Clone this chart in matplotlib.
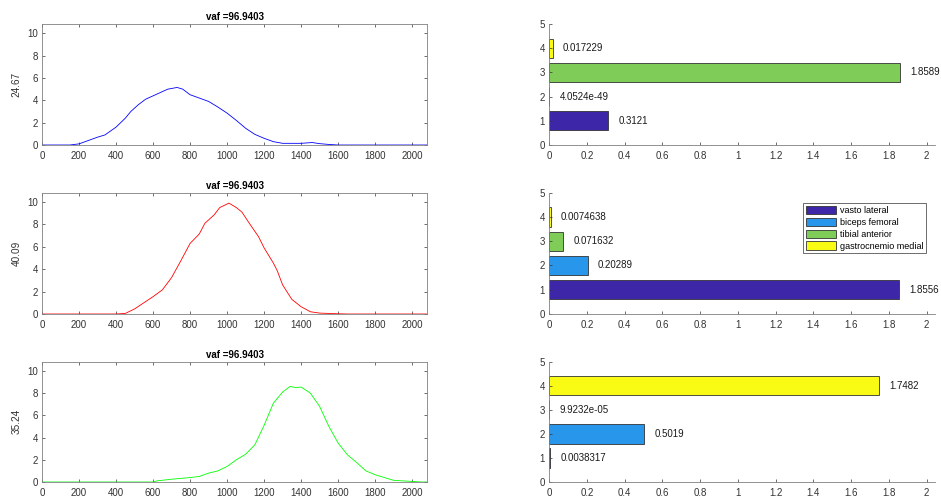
import matplotlib
matplotlib.use("Agg")
import matplotlib.pyplot as plt
from matplotlib.patches import Patch

plt.rcParams['font.family'] = ['Liberation Sans', 'DejaVu Sans']

# ---------------- data ----------------
title_text = "vaf =96.9403"
row_ylabels = ["24.67", "40.09", "35.24"]

blue_x = [0, 150, 200, 300, 340, 400, 450, 480, 520, 560, 600, 640, 680, 730, 760, 800, 850,
          900, 950, 1000, 1050, 1100, 1150, 1200, 1250, 1300, 1350, 1400, 1460, 1500, 1550,
          1600, 2078]
blue_y = [0, 0, 0.1, 0.7, 0.9, 1.6, 2.4, 3.0, 3.6, 4.1, 4.4, 4.7, 5.0, 5.15, 5.0, 4.5, 4.2,
          3.9, 3.4, 2.85, 2.2, 1.5, 0.95, 0.6, 0.3, 0.15, 0.15, 0.15, 0.22, 0.12, 0.05,
          0, 0]

red_x = [0, 400, 450, 500, 550, 600, 650, 700, 750, 800, 850, 880, 930, 960, 1010, 1050, 1080,
         1120, 1170, 1200, 1250, 1270, 1300, 1350, 1400, 1450, 1500, 1550, 1600, 1650, 2078]
red_y = [0, 0, 0.05, 0.45, 1.0, 1.55, 2.15, 3.25, 4.75, 6.3, 7.15, 8.1, 8.85, 9.5, 9.9, 9.5, 9.1,
         8.1, 6.9, 5.9, 4.55, 3.9, 2.6, 1.3, 0.65, 0.2, 0.08, 0.05, 0.02, 0, 0]

green_x = [0, 600, 620, 700, 800, 850, 900, 950, 1000, 1050, 1100, 1150, 1200, 1250, 1300, 1340,
           1370, 1400, 1450, 1500, 1550, 1600, 1650, 1700, 1750, 1800, 1850, 1900, 1950, 2000,
           2050, 2078]
green_y = [0, 0, 0.1, 0.25, 0.4, 0.5, 0.8, 1.0, 1.4, 2.0, 2.5, 3.35, 5.1, 7.1, 8.1, 8.6,
           8.5, 8.55, 8.0, 6.8, 5.0, 3.5, 2.45, 1.75, 1.0, 0.65, 0.4, 0.15, 0.1, 0.05,
           0, 0]

curves_x = [blue_x, red_x, green_x]
curves_y = [blue_y, red_y, green_y]
curve_colors = ["#0000ff", "#ff0000", "#00ff00"]

muscles = ["vasto lateral", "biceps femoral", "tibial anterior", "gastrocnemio medial"]
bar_pos = [1, 2, 3, 4]
weights_1 = [0.3121, 4.0524e-49, 1.8589, 0.017229]
weights_2 = [1.8556, 0.20289, 0.071632, 0.0074638]
weights_3 = [0.0038317, 0.5019, 9.9232e-05, 1.7482]
weights = [weights_1, weights_2, weights_3]
weight_labels = [["0.3121", "4.0524e-49", "1.8589", "0.017229"],
                 ["1.8556", "0.20289", "0.071632", "0.0074638"],
                 ["0.0038317", "0.5019", "9.9232e-05", "1.7482"]]
bar_colors = ["#3e26a8", "#2796eb", "#80cc59", "#f9fb14"]

# ---------------- layout ----------------
W, H = 941, 498
fig = plt.figure(figsize=(W / 100, H / 100), dpi=100)

left_x0, left_x1 = 42, 427
right_x0, right_x1 = 549.3, 935
rows = [(24, 145), (192.7, 314), (361.7, 482)]

axc = "#333333"
tick_fs = 7

def frac(x0, x1, top, bot):
    return [x0 / W, 1 - bot / H, (x1 - x0) / W, (bot - top) / H]

for i, (top, bot) in enumerate(rows):
    # left line plot
    ax = fig.add_axes(frac(left_x0, left_x1, top, bot))
    ax.plot(curves_x[i], curves_y[i], color=curve_colors[i], lw=0.6)
    ax.set_xlim(0, 2080)
    ax.set_ylim(0, 10.83)
    ax.set_xticks(range(0, 2001, 200))
    ax.set_yticks(range(0, 11, 2))
    ax.tick_params(direction='in', length=2.5, width=0.5, labelsize=tick_fs,
                   colors=axc, top=True, right=True)
    ax.tick_params(axis='x', pad=4)
    ax.tick_params(axis='y', pad=3)
    for s in ax.spines.values():
        s.set_color("#808080")
        s.set_linewidth(0.6)
    ax.set_title(title_text, fontsize=7, fontweight='bold', pad=3, color='black')
    ax.set_ylabel(row_ylabels[i], fontsize=7.2, color=axc, labelpad=4)

    # right bar plot
    bx = fig.add_axes(frac(right_x0, right_x1, top, bot))
    bx.barh(bar_pos, weights[i], height=0.8, color=bar_colors,
            edgecolor="#333333", linewidth=0.6)
    for p, v, lab in zip(bar_pos, weights[i], weight_labels[i]):
        bx.text(v + 0.055, p, lab, va='center', ha='left', fontsize=7, color='#1a1a1a')
    bx.set_xlim(0, 1.8589 * 1.1)
    bx.set_ylim(0, 5)
    bx.set_xticks([0, 0.2, 0.4, 0.6, 0.8, 1, 1.2, 1.4, 1.6, 1.8, 2])
    bx.set_xticklabels(["0", "0.2", "0.4", "0.6", "0.8", "1", "1.2", "1.4", "1.6", "1.8", "2"])
    bx.set_yticks(range(0, 6))
    bx.tick_params(direction='in', length=2.5, width=0.5, labelsize=tick_fs,
                   colors=axc)
    bx.tick_params(axis='x', pad=4)
    bx.tick_params(axis='y', pad=3)
    bx.spines['top'].set_visible(False)
    bx.spines['right'].set_visible(False)
    for s in ['left', 'bottom']:
        bx.spines[s].set_color("#808080")
        bx.spines[s].set_linewidth(0.6)

    if i == 1:
        handles = [Patch(facecolor=c, edgecolor="#333333", linewidth=0.6) for c in bar_colors]
        leg = bx.legend(handles, muscles, loc='upper right',
                        bbox_to_anchor=(0.976, 0.913), fontsize=6.5,
                        fancybox=False, framealpha=1, edgecolor="#555555",
                        handlelength=3.3, handleheight=1.0, labelspacing=0.3,
                        handletextpad=0.4, borderpad=0.3, borderaxespad=0)
        leg.get_frame().set_linewidth(0.6)

fig.savefig("out.png", dpi=100)
